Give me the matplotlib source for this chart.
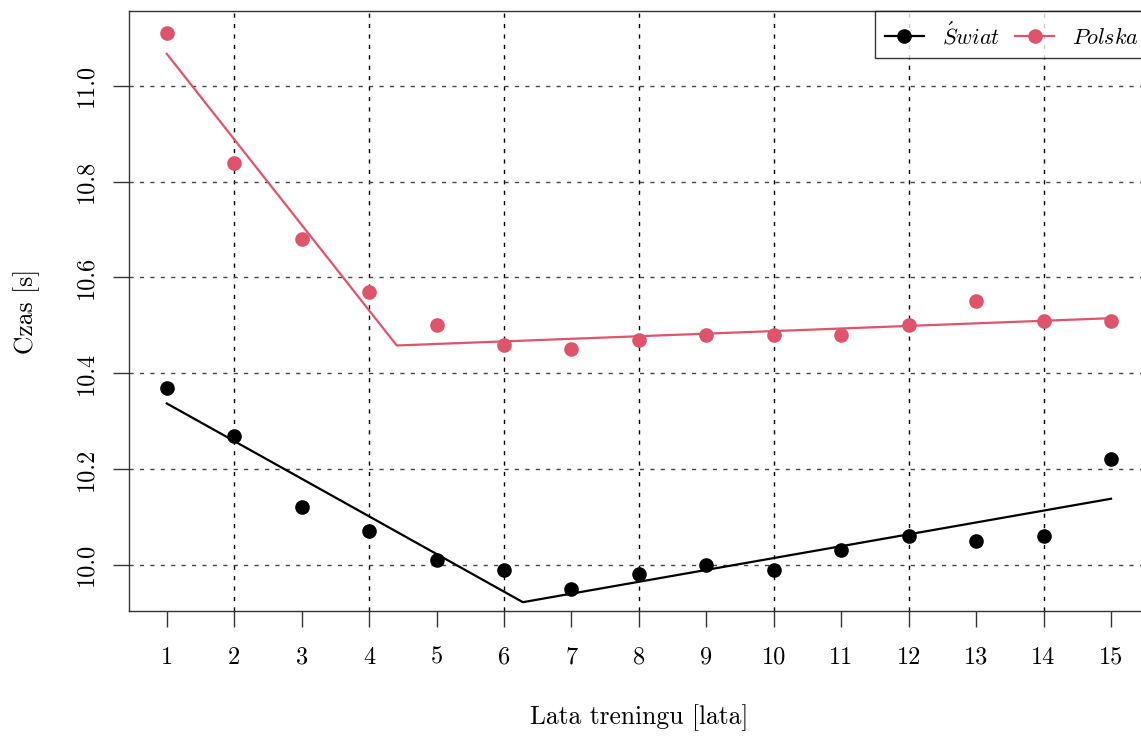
import matplotlib
matplotlib.use("Agg")
import matplotlib.pyplot as plt
from matplotlib.lines import Line2D

plt.rcParams['font.family'] = 'cmr10'
plt.rcParams['mathtext.fontset'] = 'cm'
plt.rcParams['axes.formatter.use_mathtext'] = True

# data
years = list(range(1, 16))
swiat = [10.37, 10.27, 10.12, 10.07, 10.01, 9.99, 9.95, 9.98, 10.00, 9.99,
         10.03, 10.06, 10.05, 10.06, 10.22]
polska = [11.11, 10.84, 10.68, 10.57, 10.50, 10.46, 10.45, 10.47, 10.48, 10.48,
          10.48, 10.50, 10.55, 10.51, 10.51]

# segmented fits (start, break, end)
swiat_fit_x = [1, 6.28, 15]
swiat_fit_y = [10.337, 9.922, 10.138]
polska_fit_x = [1, 4.41, 15]
polska_fit_y = [11.067, 10.458, 10.515]

y_ticks = [10.0, 10.2, 10.4, 10.6, 10.8, 11.0]
y_labels = ['10.0', '10.2', '10.4', '10.6', '10.8', '11.0']
grid_x = [2, 4, 6, 8, 10, 12, 14]

pink = '#DF536B'

fig = plt.figure(figsize=(11.41, 7.36), dpi=100)
ax = fig.add_axes([129 / 1141, 125 / 736, 1019.8 / 1141, 600 / 736])

# dashed grid
for gx in grid_x:
    ax.axvline(gx, color='black', lw=1, dashes=(3, 4.5), zorder=0)
for gy in y_ticks:
    ax.axhline(gy, color='#444444', lw=1, dashes=(3, 4.5), zorder=0)

ax.plot(years, swiat, 'o', color='black', ms=9.5, zorder=3)
ax.plot(years, polska, 'o', color=pink, ms=9.5, zorder=3)
ax.plot(swiat_fit_x, swiat_fit_y, color='black', lw=1.6, zorder=2)
ax.plot(polska_fit_x, polska_fit_y, color=pink, lw=1.6, zorder=2)

ax.set_xlim(0.44, 15.56)
ax.set_ylim(9.9036, 11.1564)

ax.set_xticks(years)
ax.set_xticklabels([str(y) for y in years])
ax.set_yticks(y_ticks)
ax.set_yticklabels(y_labels, rotation=90, va='center')
ax.tick_params(axis='both', direction='out', length=11.5, width=1,
               labelsize=17.5, color='#333333')
ax.tick_params(axis='x', pad=14)
ax.tick_params(axis='y', pad=11)

for s in ax.spines.values():
    s.set_linewidth(1)
    s.set_color('#333333')

ax.set_xlabel('Lata treningu [lata]', fontsize=18.4, labelpad=26)
ax.set_ylabel('Czas [s]', fontsize=18.4, labelpad=26)

handles = [
    Line2D([], [], color='black', marker='o', ms=9.5, lw=1.6),
    Line2D([], [], color=pink, marker='o', ms=9.5, lw=1.6),
]
leg = ax.legend(handles, [r'$\acute{S}wiat$', r'$Polska$'], ncol=2,
                loc='upper right', bbox_to_anchor=(1.0, 1), borderaxespad=0,
                fontsize=16, frameon=True, fancybox=False, handlelength=1.75,
                handletextpad=0.8, columnspacing=0.7, borderpad=0.45)
leg.get_frame().set_edgecolor('black')
leg.get_frame().set_linewidth(1)

fig.savefig('out.png', dpi=100)
